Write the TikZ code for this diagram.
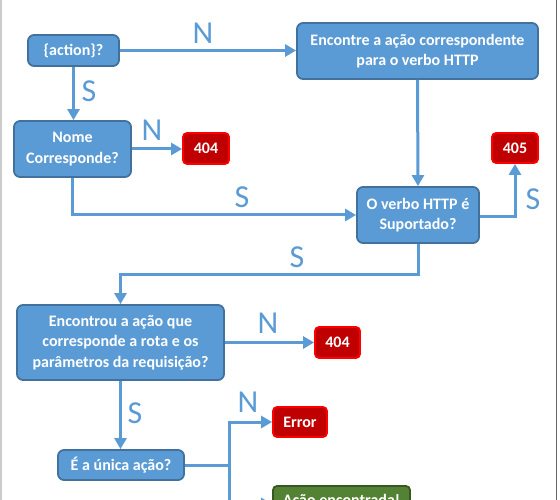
\documentclass[tikz,border=0pt]{standalone}
\usepackage{fontspec}
\setmainfont{Carlito}[BoldFont={Carlito Bold}]
\usetikzlibrary{positioning,arrows.meta}

\definecolor{boxblue}{HTML}{5B9BD5}
\definecolor{boxedge}{HTML}{41719C}
\definecolor{errfill}{HTML}{C00000}
\definecolor{erredge}{HTML}{FF0000}
\definecolor{okfill}{HTML}{548235}
\definecolor{okedge}{HTML}{385723}

\begin{document}
\begin{tikzpicture}[x=1pt, y=-1pt,
	every node/.style={inner sep=0pt, align=center},
	flow/.style={line width=3pt, draw=boxblue, -{Triangle[length=11pt,width=12pt]}}]

\tikzstyle{stepbox} = [
    draw = boxedge,
    fill = boxblue,
    line width = 1.8pt,
    rounded corners = 6pt,
    text = white,
    font = \bfseries\fontsize{16}{20.5}\selectfont
]
\tikzstyle{errbox} = [
    draw = erredge,
    fill = errfill,
    line width = 1.8pt,
    rounded corners = 4pt,
    text = white,
    font = \bfseries\fontsize{16}{20.5}\selectfont
]
\tikzstyle{okbox} = [
    errbox,
    draw = okedge,
    fill = okfill
]
\tikzstyle{answer} = [
    text = boxblue,
    font = \fontsize{32}{32}\selectfont
]

\clip (0,0) rectangle (560,500);
\useasboundingbox (0,0) rectangle (560,500);
\draw [line width=1.5pt, black!20] (1,0) -- (1,500);
\draw [line width=1.8pt, black!60] (556.5,0) -- (556.5,500);

% boxes
\node [stepbox, minimum width=91pt, minimum height=31pt] (action) at (73.5,50.5) {\{action\}?};
\node [stepbox, minimum width=241pt, minimum height=56pt] (find) at (417.5,51) {Encontre a ação correspondente\\para o verbo HTTP};
\node [stepbox, minimum width=117pt, minimum height=56pt] (name) at (72.5,149) {Nome\\Corresponde?};
\node [errbox, minimum width=46pt, minimum height=31pt] (nf1) at (206,148.5) {404};
\node [stepbox, minimum width=122pt, minimum height=56pt] (verb) at (418,215) {O verbo HTTP é\\Suportado?};
\node [errbox, minimum width=46pt, minimum height=30pt] (na) at (515,148) {405};
\node [stepbox, minimum width=207pt, minimum height=75pt] (match) at (120.5,342.5) {Encontrou a ação que\\corresponde a rota e os\\parâmetros da requisição?};
\node [errbox, minimum width=45pt, minimum height=31pt] (nf2) at (337.5,342.5) {404};
\node [stepbox, minimum width=126pt, minimum height=30pt] (single) at (121,465) {É a única ação?};
\node [errbox, minimum width=54pt, minimum height=30pt] (err) at (300,422) {Error};
\node [okbox, minimum width=137pt, minimum height=30pt] (found) at (341.5,501) {Ação encontrada!};

% connectors
\coordinate (turn) at (418,274);
\coordinate (fork) at (229,465);
\draw [flow] (action.east) -- (action.east -| find.west);
\draw [flow] (action.south) -- (action.south |- name.north);
\draw [flow] (name.east) -- (name.east -| nf1.west);
\draw [flow] (name.south) |- (verb.west);
\draw [flow] (find.south) -- (verb.north);
\draw [flow] ([yshift=-2pt]verb.east) -| (na.south);
\draw [flow] (verb.south) -- (turn) -| (match.north);
\draw [flow] (match.east) -- (match.east -| nf2.west);
\draw [flow] (match.south) -- (match.south |- single.north);
\draw [line width=3pt, boxblue] (single.east) -- (fork);
\draw [flow] (fork) |- (err.west);
\draw [flow] (fork) |- ([yshift=-3pt]found.west);

% answers
\node [answer] (n1) at (203,33) {N};
\node [answer] (s1) at (89,91) {S};
\node [answer] (n2) at (152,130) {N};
\node [answer] (s2) at (242,197) {S};
\node [answer] (s3) at (533,199) {S};
\node [answer] (s4) at (297,257) {S};
\node [answer] (n3) at (268,323) {N};
\node [answer] (s5) at (135,413) {S};
\node [answer] (n4) at (248,402) {N};
\end{tikzpicture}
\end{document}
